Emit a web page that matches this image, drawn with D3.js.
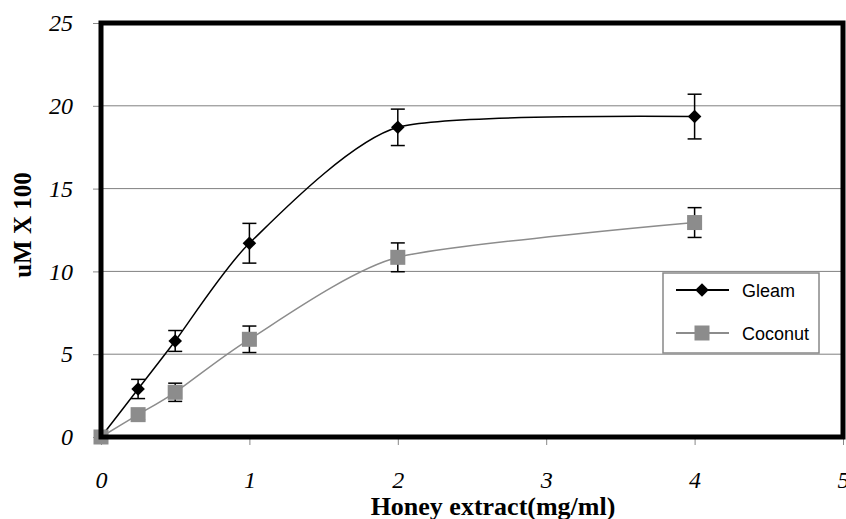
<!DOCTYPE html>
<html>
<head>
<meta charset="utf-8">
<script src="https://cdn.jsdelivr.net/npm/d3@7"></script>
<style>
  body { margin: 0; background: #fff; }
  .tick text { font-family: "Liberation Serif", "Times New Roman", serif; font-style: italic; }
  .title { font-family: "Liberation Serif", "Times New Roman", serif; font-weight: bold; }
  .legend text { font-family: "Liberation Sans", Arial, sans-serif; }
</style>
</head>
<body>
<div id="chart"></div>
<script>
// chart data
const X_VALUES = [0, 0.25, 0.5, 1, 2, 4];
const GLEAM = [0, 2.9, 5.8, 11.7, 18.7, 19.35];
const GLEAM_ERR = [0, 0.58, 0.63, 1.2, 1.1, 1.35];
const COCONUT = [0, 1.35, 2.7, 5.9, 10.85, 12.95];
const COCONUT_ERR = [0, 0.3, 0.55, 0.8, 0.87, 0.9];
const X_TICKS = [0, 1, 2, 3, 4, 5];
const Y_TICKS = [0, 5, 10, 15, 20, 25];

const FRAME_WIDTH = 846;
const FRAME_HEIGHT = 519;
const MARGINS = {left: 101, right: 3, top: 23, bottom: 82};

const VIS_WIDTH = FRAME_WIDTH - MARGINS.left - MARGINS.right;
const VIS_HEIGHT = FRAME_HEIGHT - MARGINS.top - MARGINS.bottom;

const FRAME = d3.select('#chart')
  .append('svg')
    .attr('width', FRAME_WIDTH)
    .attr('height', FRAME_HEIGHT);

const xscale = d3.scaleLinear().domain([0, 5]).range([0, VIS_WIDTH]);
const yscale = d3.scaleLinear().domain([0, 25]).range([VIS_HEIGHT, 0]);

const g = FRAME.append('g')
  .attr('transform', 'translate(' + MARGINS.left + ',' + MARGINS.top + ')');

// horizontal gridlines
g.selectAll('.grid')
  .data(Y_TICKS.slice(1, -1))
  .enter().append('line')
    .attr('x1', 0).attr('x2', VIS_WIDTH)
    .attr('y1', d => yscale(d)).attr('y2', d => yscale(d))
    .attr('stroke', '#808080').attr('stroke-width', 1);

// axes
const xAxis = g.append('g')
  .attr('transform', 'translate(0,' + VIS_HEIGHT + ')')
  .call(d3.axisBottom(xscale).tickValues(X_TICKS).tickFormat(d3.format('d'))
    .tickSize(8).tickPadding(26));
xAxis.select('.domain').remove();
xAxis.selectAll('line').attr('stroke', '#888');
xAxis.selectAll('text').attr('font-size', '24px').attr('fill', '#000');

const yAxis = g.append('g')
  .call(d3.axisLeft(yscale).tickValues(Y_TICKS).tickFormat(d3.format('d'))
    .tickSize(8).tickPadding(20));
yAxis.select('.domain').remove();
yAxis.selectAll('line').attr('stroke', '#888');
yAxis.selectAll('text').attr('font-size', '24px').attr('fill', '#000');

// series
const series = [
  {name: 'Gleam', values: GLEAM, err: GLEAM_ERR, color: '#000', marker: 'diamond'},
  {name: 'Coconut', values: COCONUT, err: COCONUT_ERR, color: '#8c8c8c', marker: 'square'}
];

// smoothed line, like the spreadsheet's smoothing
const line = d3.line()
  .x((d, i) => xscale(X_VALUES[i]))
  .y(d => yscale(d))
  .curve(d3.curveCardinal.tension(0.35));

function drawMarker(sel, s, x, y) {
  if (s.marker === 'diamond') {
    sel.append('path')
      .attr('d', d3.symbol().type(d3.symbolSquare).size(92)())
      .attr('transform', 'translate(' + x + ',' + y + ') rotate(45)')
      .attr('fill', s.color);
  } else {
    sel.append('rect')
      .attr('x', x - 7.5).attr('y', y - 7.5)
      .attr('width', 15).attr('height', 15)
      .attr('fill', s.color);
  }
}

series.forEach(s => {
  g.append('path')
    .datum(s.values)
    .attr('fill', 'none')
    .attr('stroke', s.color)
    .attr('stroke-width', 1.5)
    .attr('d', line);
});

// error bars
series.forEach(s => {
  const sg = g.append('g');
  s.values.forEach((v, i) => {
    const x = xscale(X_VALUES[i]);
    if (s.err[i] > 0) {
      const y0 = yscale(v - s.err[i]);
      const y1 = yscale(v + s.err[i]);
      sg.append('line').attr('x1', x).attr('x2', x).attr('y1', y0).attr('y2', y1)
        .attr('stroke', '#000').attr('stroke-width', 1.5);
      [y0, y1].forEach(yy => {
        sg.append('line').attr('x1', x - 7).attr('x2', x + 7).attr('y1', yy).attr('y2', yy)
          .attr('stroke', '#000').attr('stroke-width', 1.5);
      });
    }
  });
});

// markers on top of the error bars
series.forEach(s => {
  const mg = g.append('g');
  s.values.forEach((v, i) => drawMarker(mg, s, xscale(X_VALUES[i]), yscale(v)));
});

// thick plot frame
g.append('rect')
  .attr('x', 0).attr('y', 0)
  .attr('width', VIS_WIDTH).attr('height', VIS_HEIGHT)
  .attr('fill', 'none')
  .attr('stroke', '#000')
  .attr('stroke-width', 5);

// legend
const legend = FRAME.append('g').attr('class', 'legend');
legend.append('rect')
  .attr('x', 663).attr('y', 273)
  .attr('width', 156).attr('height', 80)
  .attr('fill', '#fff')
  .attr('stroke', '#888').attr('stroke-width', 1.5);

series.forEach((s, i) => {
  const ly = 290 + i * 43;
  legend.append('line')
    .attr('x1', 676).attr('x2', 729).attr('y1', ly).attr('y2', ly)
    .attr('stroke', s.color).attr('stroke-width', 2);
  drawMarker(legend, s, 702, ly);
  legend.append('text')
    .attr('x', 742).attr('y', ly + 6.5)
    .attr('font-size', '18px')
    .attr('fill', '#000')
    .text(s.name);
});

// axis titles
FRAME.append('text')
  .attr('class', 'title')
  .attr('x', 493).attr('y', 515)
  .attr('text-anchor', 'middle')
  .attr('font-size', '26px')
  .text('Honey extract(mg/ml)');

FRAME.append('text')
  .attr('class', 'title')
  .attr('transform', 'translate(31,225) rotate(-90)')
  .attr('text-anchor', 'middle')
  .attr('font-size', '25px')
  .text('uM X 100');
</script>
</body>
</html>
